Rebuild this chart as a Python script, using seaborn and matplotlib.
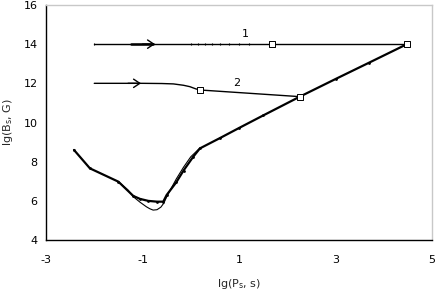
import matplotlib
matplotlib.use("Agg")
import matplotlib.pyplot as plt
import seaborn as sns
import pandas as pd

sns.set_theme(style="white")
plt.rcParams['font.family'] = ['DejaVu Sans']

# Main track (with small markers), thick line
main_x = [-2.42, -2.09, -1.50, -1.19, -1.05, -0.88, -0.70, -0.57, -0.50, -0.30, -0.15, 0.05, 0.19, 0.60, 1.0, 1.5, 2.26, 3.0, 3.7, 4.48]
main_y = [8.60, 7.66, 6.98, 6.25, 6.10, 6.00, 5.96, 5.96, 6.30, 6.95, 7.55, 8.25, 8.68, 9.20, 9.72, 10.36, 11.32, 12.22, 13.06, 14.0]

# Smooth thin variant near the minimum
smooth_x = [-1.50, -1.30, -1.19, -1.05, -0.92, -0.85, -0.78, -0.70, -0.62, -0.56, -0.50, -0.42, -0.30, -0.15, 0.0, 0.19]
smooth_y = [6.98, 6.55, 6.21, 5.93, 5.70, 5.60, 5.53, 5.55, 5.68, 5.88, 6.20, 6.58, 7.12, 7.72, 8.25, 8.70]

# Track 1
t1_x = [-2.0, 0.0, 0.15, 0.3, 0.45, 0.6, 0.8, 1.0, 1.2, 1.68, 4.48]
t1_y = [14.0] * 11
t1_sq_x = [1.68, 4.48]
t1_sq_y = [14.0, 14.0]

# Track 2
t2_x = [-2.0, -1.0, -0.6, -0.36, -0.15, -0.02, 0.10, 0.19, 2.26]
t2_y = [12.0, 12.0, 11.99, 11.97, 11.90, 11.83, 11.72, 11.66, 11.32]
t2_sq_x = [0.19, 2.26]
t2_sq_y = [11.66, 11.32]

x_ticks = [-3, -1, 1, 3, 5]
y_ticks = [4, 6, 8, 10, 12, 14, 16]

fig = plt.figure(figsize=(4.36, 2.91), dpi=100)
ax = fig.add_axes([0.1055, 0.175, 0.8855, 0.808])

sns.lineplot(x=main_x, y=main_y, ax=ax, color="black", lw=1.6, sort=False,
             marker="o", markersize=2, markeredgewidth=0)
sns.lineplot(x=smooth_x, y=smooth_y, ax=ax, color="black", lw=0.8, sort=False)
sns.lineplot(x=t1_x, y=t1_y, ax=ax, color="black", lw=1.0, sort=False,
             marker="|", markersize=1.8, markeredgewidth=0.8,
             markeredgecolor="black", markerfacecolor="black")
sns.lineplot(x=t2_x, y=t2_y, ax=ax, color="black", lw=1.0, sort=False)
for sx, sy in [(t1_sq_x, t1_sq_y), (t2_sq_x, t2_sq_y)]:
    sns.scatterplot(x=sx, y=sy, ax=ax, marker="s", s=14, facecolor="white",
                    edgecolor="black", linewidth=0.7, zorder=5)

# Thicker shaft segment on track 1 and open chevron arrow heads
sns.lineplot(x=[-1.24, -0.78], y=[14.0, 14.0], ax=ax, color="black", lw=1.8)
ax.annotate("", xy=(-0.74, 14.0), xytext=(-1.0, 14.0),
            arrowprops=dict(arrowstyle="->,head_length=0.45,head_width=0.3",
                            color="black", lw=1.0, mutation_scale=10, shrinkA=0, shrinkB=0))
ax.annotate("", xy=(-1.03, 12.0), xytext=(-1.3, 12.0),
            arrowprops=dict(arrowstyle="->,head_length=0.45,head_width=0.3",
                            color="black", lw=1.0, mutation_scale=10, shrinkA=0, shrinkB=0))

ax.text(1.14, 14.25, "1", fontsize=8, ha="center", va="bottom", color="black")
ax.text(0.95, 11.75, "2", fontsize=8, ha="center", va="bottom", color="black")

ax.set_xlim(-3, 5)
ax.set_ylim(4, 16)
ax.set_xticks(x_ticks)
ax.set_yticks(y_ticks)
ax.set_xticklabels([str(v) for v in x_ticks], fontsize=8)
ax.set_yticklabels([str(v) for v in y_ticks], fontsize=8)
ax.tick_params(axis="x", direction="inout", length=5, width=1, pad=8, colors="black")
ax.tick_params(axis="y", direction="out", length=4, width=1, pad=2, colors="black")

for side in ["left", "bottom"]:
    ax.spines[side].set_color("black")
    ax.spines[side].set_linewidth(1.0)
for side in ["top", "right"]:
    ax.spines[side].set_color("#c8c8c8")
    ax.spines[side].set_linewidth(1.0)
    ax.spines[side].set_visible(True)

ax.set_xlabel(r"lg(P$_{\mathregular{s}}$, s)", fontsize=8, labelpad=9)
ax.set_ylabel(r"lg(B$_{\mathregular{s}}$, G)", fontsize=8, labelpad=6)

fig.savefig("out.png", dpi=100)
